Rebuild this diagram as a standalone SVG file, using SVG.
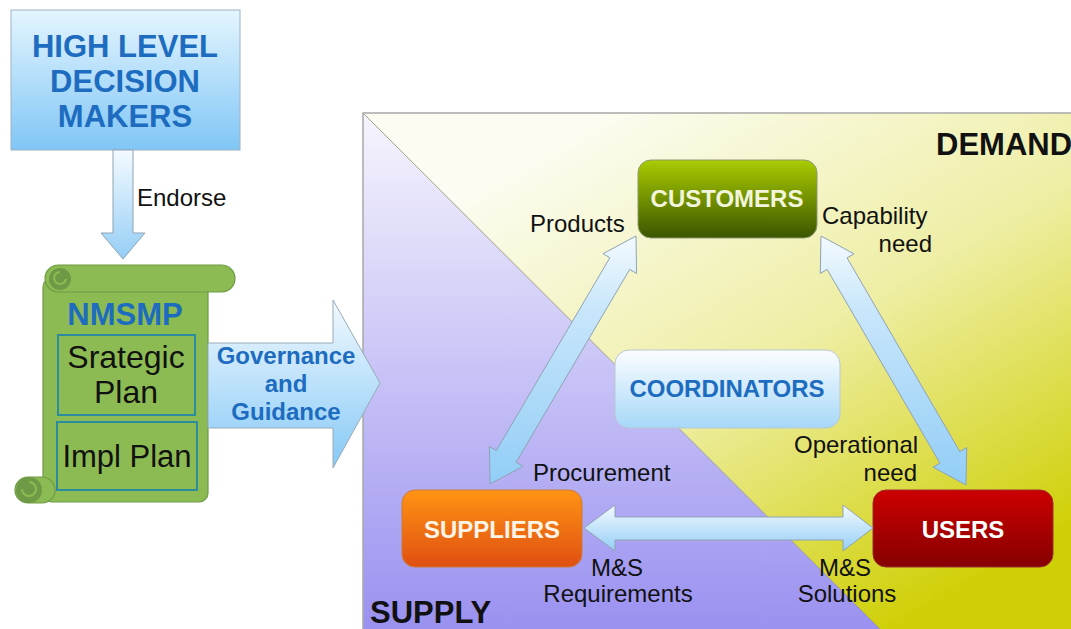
<svg xmlns="http://www.w3.org/2000/svg" width="1071" height="629" viewBox="0 0 1071 629">
<defs>
<style>
text{font-family:"Liberation Sans",Arial,sans-serif}
.lbl{font-size:24px;fill:#111}
.bold{font-weight:bold}
.blue{fill:#1d6cbf}
.arrow{fill:url(#gArrow);stroke:#8fa3b3;stroke-width:1}
.node{font-size:24px;font-weight:bold;text-anchor:middle}
</style>
<linearGradient id="gTop" x1="0" y1="0" x2="0" y2="1"><stop offset="0" stop-color="#e4f5fe"/><stop offset="1" stop-color="#80c6f6"/></linearGradient>
<linearGradient id="gArrow" x1="0" y1="0" x2="0" y2="1"><stop offset="0" stop-color="#f4faff"/><stop offset="1" stop-color="#95cef6"/></linearGradient>
<linearGradient id="gDiag" x1="0" y1="0" x2="0" y2="1"><stop offset="0" stop-color="#f4faff"/><stop offset="0.3" stop-color="#c8e6fb"/><stop offset="1" stop-color="#92cdf6"/></linearGradient>
<linearGradient id="gBig" x1="0" y1="0" x2="0" y2="1"><stop offset="0" stop-color="#f2f9ff"/><stop offset="1" stop-color="#86c9f6"/></linearGradient>
<linearGradient id="gSupply" gradientUnits="userSpaceOnUse" x1="0" y1="113" x2="0" y2="629"><stop offset="0" stop-color="#f6f5fd"/><stop offset="1" stop-color="#9a91f0"/></linearGradient>
<linearGradient id="gDemand" gradientUnits="userSpaceOnUse" x1="600" y1="113" x2="900" y2="629"><stop offset="0" stop-color="#fcfcf2"/><stop offset="0.5" stop-color="#eeeea4"/><stop offset="1" stop-color="#cfcf05"/></linearGradient>
<linearGradient id="gCust" x1="0" y1="0" x2="0" y2="1"><stop offset="0" stop-color="#a9cc00"/><stop offset="1" stop-color="#3b5500"/></linearGradient>
<linearGradient id="gCoord" x1="0" y1="0" x2="0" y2="1"><stop offset="0" stop-color="#fbfdff"/><stop offset="1" stop-color="#a6d8f8"/></linearGradient>
<linearGradient id="gSupp" x1="0" y1="0" x2="0" y2="1"><stop offset="0" stop-color="#ff9413"/><stop offset="1" stop-color="#df4f12"/></linearGradient>
<linearGradient id="gUsers" x1="0" y1="0" x2="0" y2="1"><stop offset="0" stop-color="#cc0000"/><stop offset="1" stop-color="#860000"/></linearGradient>
</defs>

<g id="panel">
<polygon points="363,113 1071,113 1071,629 880,629" fill="url(#gDemand)"/>
<polygon points="363,113 880,629 363,629" fill="url(#gSupply)"/>
<line x1="363" y1="113" x2="880" y2="629" stroke="#a0a08a" stroke-width="1"/>
<polyline points="363,629 363,113 1071,113" fill="none" stroke="#a8a8a8" stroke-width="1.5"/>
<text class="bold" x="936" y="155" font-size="31" fill="#111">DEMAND</text>
<text class="bold" x="370" y="623" font-size="31" fill="#111">SUPPLY</text>
</g>

<g id="decision-makers">
<rect x="11" y="10" width="229" height="140" fill="url(#gTop)" stroke="#9fb2c2" stroke-width="1"/>
<text class="bold blue" font-size="31" text-anchor="middle" x="125" y="57">HIGH LEVEL</text>
<text class="bold blue" font-size="31" text-anchor="middle" x="125" y="92">DECISION</text>
<text class="bold blue" font-size="31" text-anchor="middle" x="125" y="127">MAKERS</text>
</g>

<g id="nmsmp">
<rect x="43" y="278" width="165" height="224" rx="9" fill="#8dbb53" stroke="#6f9a45" stroke-width="1.2"/>
<rect x="45" y="265" width="190" height="27" rx="13.5" fill="#8dbb53" stroke="#6f9a45" stroke-width="1.2"/>
<circle cx="60" cy="279" r="11" fill="#6f9a45"/>
<path d="M60,272 a6,6 0 1 0 6,7" fill="none" stroke="#8dbb53" stroke-width="2"/>
<rect x="15" y="477" width="40" height="26" rx="13" fill="#8dbb53" stroke="#6f9a45" stroke-width="1.2"/>
<circle cx="29" cy="490" r="13" fill="#6f9a45"/>
<path d="M29,482 a7,7 0 1 1 -7,7" fill="none" stroke="#8dbb53" stroke-width="2"/>
<text class="bold blue" font-size="31" text-anchor="middle" x="125" y="325">NMSMP</text>
<rect x="58" y="335" width="137" height="80" fill="none" stroke="#2a8c9c" stroke-width="2"/>
<text font-size="32" text-anchor="middle" x="126" y="368" fill="#111">Srategic</text>
<text font-size="32" text-anchor="middle" x="126" y="403" fill="#111">Plan</text>
<rect x="57" y="422" width="140" height="68" fill="none" stroke="#2a8c9c" stroke-width="2"/>
<text font-size="31" text-anchor="middle" x="127" y="467" fill="#111">Impl Plan</text>
</g>

<g id="customers">
<rect x="638" y="160" width="179" height="78" rx="13" fill="url(#gCust)" stroke="#8c9a70" stroke-width="1"/>
<text class="node" x="727" y="207" fill="#f2f5dc">CUSTOMERS</text>
</g>

<g id="coordinators">
<rect x="615" y="350" width="225" height="78" rx="14" fill="url(#gCoord)" stroke="#b9c7d3" stroke-width="1"/>
<text class="node blue" x="727" y="397">COORDINATORS</text>
</g>

<g id="suppliers">
<rect x="402" y="490" width="180" height="77" rx="13" fill="url(#gSupp)" stroke="#cc7a40" stroke-width="1"/>
<text class="node" x="492" y="538" fill="#fff3e6">SUPPLIERS</text>
</g>

<g id="users">
<rect x="873" y="490" width="180" height="77" rx="13" fill="url(#gUsers)" stroke="#9a3030" stroke-width="1"/>
<text class="node" x="963" y="538" fill="#fff">USERS</text>
</g>

<g id="connectors">
<polygon class="arrow" points="113,150 133,150 133,233 145,233 123,259 101,233 113,233"/>
<polygon points="208,343 333,343 333,300 380,383 333,468 333,428 208,428" fill="url(#gBig)" stroke="#98aab8" stroke-width="1"/>
<polygon fill="url(#gDiag)" stroke="#8fa3b3" stroke-width="1" points="636,236 636.57,273.46 629.68,269.40 516.14,462.26 523.03,466.32 490,484 489.43,446.54 496.32,450.60 609.86,257.74 602.97,253.68"/>
<polygon fill="url(#gDiag)" stroke="#8fa3b3" stroke-width="1" points="821,236 853.96,253.85 847.05,257.87 959.83,451.55 966.74,447.53 966,485 933.04,467.15 939.95,463.13 827.17,269.45 820.26,273.47"/>
<polygon class="arrow" points="584,528 615,505 615,517 843,517 843,505 873,528 843,551 843,540 615,540 615,551"/>
</g>

<g id="labels">
<text class="lbl" x="137" y="206">Endorse</text>
<text class="bold blue" font-size="24" text-anchor="middle" x="286" y="364">Governance</text>
<text class="bold blue" font-size="24" text-anchor="middle" x="286" y="392">and</text>
<text class="bold blue" font-size="24" text-anchor="middle" x="286" y="420">Guidance</text>
<text class="lbl" x="530" y="232">Products</text>
<text class="lbl" x="822" y="224">Capability</text>
<text class="lbl" text-anchor="end" x="932" y="252">need</text>
<text class="lbl" x="794" y="453">Operational</text>
<text class="lbl" text-anchor="end" x="917" y="481">need</text>
<text class="lbl" x="533" y="481">Procurement</text>
<text class="lbl" text-anchor="middle" x="617" y="576">M&amp;S</text>
<text class="lbl" text-anchor="middle" x="618" y="602">Requirements</text>
<text class="lbl" text-anchor="middle" x="845" y="576">M&amp;S</text>
<text class="lbl" text-anchor="middle" x="847" y="602">Solutions</text>
</g>
</svg>
